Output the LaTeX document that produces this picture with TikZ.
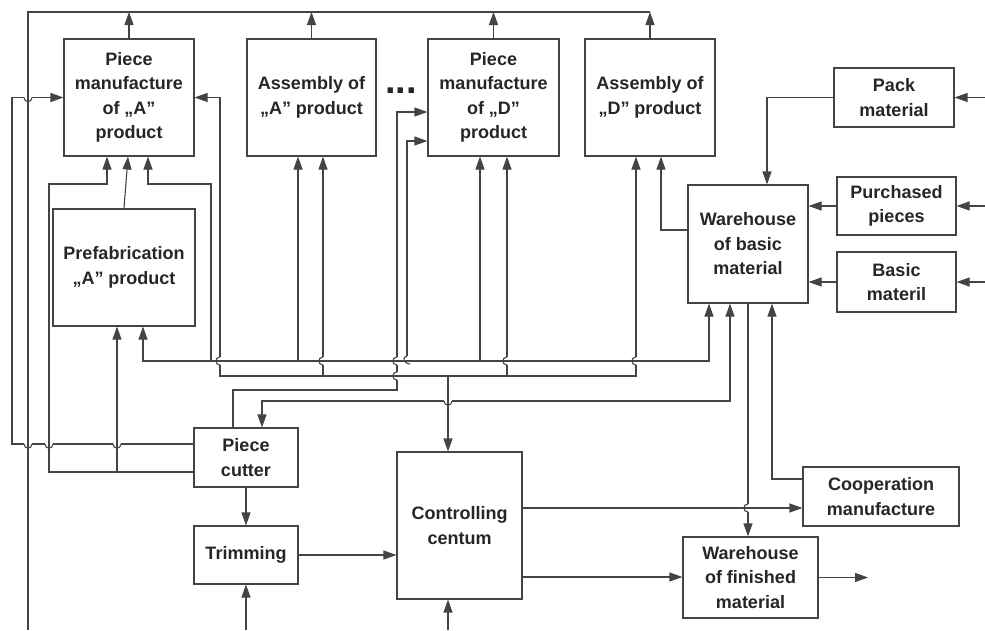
\documentclass[tikz,border=0pt]{standalone}
\usepackage{fontspec}
\setmainfont{Liberation Sans}
\usetikzlibrary{arrows.meta}
\definecolor{linec}{HTML}{444444}
\definecolor{txtc}{HTML}{262626}
\begin{document}
\begin{tikzpicture}[x=1pt,y=-1pt,
  box/.style={draw=linec, line width=1.1pt, fill=white, inner sep=0pt, align=center,
    text=txtc, font=\bfseries\fontsize{18}{24.5}\selectfont},
  ln/.style={draw=linec, line width=1.1pt},
  hop/.style={draw=linec, line width=1.1pt},
  arr/.style={ln, -{Triangle[length=13pt,width=9pt]}},
  arrs/.style={ln, {Triangle[length=13pt,width=9pt]}-{Triangle[length=13pt,width=9pt]}}]
\fill[white] (0,0) rectangle (985,630);
\useasboundingbox (0,0) rectangle (985,630);

% boxes
\node[box, minimum width=130pt, minimum height=117pt] (pa) at (129,97.5) {Piece\\manufacture\\of „A”\\product};
\node[box, minimum width=129pt, minimum height=117pt] (aa) at (311.5,97.5) {Assembly of\\„A” product};
\node[box, minimum width=131pt, minimum height=117pt] (pd) at (493.5,97.5) {Piece\\manufacture\\of „D”\\product};
\node[box, minimum width=130pt, minimum height=117pt] (ad) at (650,97.5) {Assembly of\\„D” product};
\node[box, minimum width=120pt, minimum height=59pt] (pack) at (894,97.5) {Pack\\material};
\node[box, minimum width=119pt, minimum height=58pt] (purch) at (896.5,206) {Purchased\\pieces};
\node[box, minimum width=119pt, minimum height=60pt] (basic) at (896.5,282) {Basic\\materil};
\node[box, minimum width=120pt, minimum height=118pt] (wb) at (748,244) {Warehouse\\of basic\\material};
\node[box, minimum width=142pt, minimum height=117pt] (pre) at (124,267.5) {Prefabrication\\„A” product};
\node[box, minimum width=104pt, minimum height=59pt] (pc) at (246,457.5) {Piece\\cutter};
\node[box, minimum width=104pt, minimum height=58pt] (trim) at (246,555) {Trimming};
\node[box, minimum width=125pt, minimum height=147pt] (cc) at (459.5,525.5) {Controlling\\centum};
\node[box, minimum width=156pt, minimum height=59pt] (coop) at (881,496.5) {Cooperation\\manufacture};
\node[box, minimum width=135pt, minimum height=81pt] (wf) at (750.5,577.5) {Warehouse\\of finished\\material};
\node[text=txtc, font=\bfseries\fontsize{38}{38}\selectfont, inner sep=0pt] (dots) at (401,91) {...};

% free ends
\coordinate (yTop) at (0,12);
\coordinate (bl) at (28,630);
\coordinate (tr) at (650,12);
\coordinate (inpack) at (985,97.5);
\coordinate (inpurch) at (985,206);
\coordinate (inbasic) at (985,282);
\coordinate (out) at (868,577.5);
\coordinate (trimin) at (246,630);
\coordinate (ccin) at (448,630);
\coordinate (j1) at (117,472);

% top collector line
\draw[ln] (bl) -- (28,12) -- (tr);
\draw[arr] (pa.north) -- (pa.north |- yTop);
\draw[arr] (aa.north) -- (aa.north |- yTop);
\draw[arr] (pd.north) -- (pd.north |- yTop);
\draw[arr] (ad.north) -- (ad.north |- yTop);

% right inputs
\draw[arr] (inpack) -- (pack.east);
\draw[arr] (inpurch) -- (purch.east);
\draw[arr] (inbasic) -- (basic.east);
\draw[arr] (pack.west) -| ([xshift=19pt]wb.north);
\draw[arr] (purch.west) -- (purch.west -| wb.east);
\draw[arr] (basic.west) -- (basic.west -| wb.east);
\draw[arr] ([yshift=14pt]wb.west) -| ([xshift=11pt]ad.south);

% piece cutter to piece manufacture A and prefabrication
\draw[arr] ([yshift=-14.5pt]pc.west) -| (49,184) -| ([xshift=-22pt]pa.south);
\draw[arr] (j1) -- ([xshift=-7pt]pre.south);
\draw[arr] (pre.north) -- ([xshift=-1pt]pa.south);
\draw[ln] ([yshift=13.5pt]pc.west) -- (121,444) (113,444) -- (53,444) (45,444) -- (32,444)
  (24,444) -- (12,444) -- (12,97.5) -- (24,97.5);
\draw[arr] (32,97.5) -- (pa.west);
\draw[hop] (121,444) .. controls +(0,5.5) and +(0,5.5) .. (113,444);
\draw[hop] (53,444) .. controls +(0,5.5) and +(0,5.5) .. (45,444);
\draw[hop] (32,444) .. controls +(0,5.5) and +(0,5.5) .. (24,444);
\draw[hop] (24,97.5) .. controls +(0,5.5) and +(0,5.5) .. (32,97.5);

% bus 376
\draw[arr] (220,357) -- (220,97.5) -- (pa.east);
\draw[ln] (220,365) -- (220,376) -- (636,376) -- (636,365);
\draw[arr] (636,357) -- ([xshift=-14pt]ad.south);
\draw[hop] (220,357) .. controls +(-5.5,0) and +(-5.5,0) .. (220,365);
\draw[hop] (636,357) .. controls +(-5.5,0) and +(-5.5,0) .. (636,365);
\draw[ln] (323,376) -- (323,365);
\draw[arr] (323,357) -- ([xshift=11.5pt]aa.south);
\draw[hop] (323,357) .. controls +(-5.5,0) and +(-5.5,0) .. (323,365);
\draw[ln] (507,376) -- (507,365);
\draw[arr] (507,357) -- ([xshift=13.5pt]pd.south);
\draw[hop] (507,357) .. controls +(-5.5,0) and +(-5.5,0) .. (507,365);
\draw[arr] (448,376) -- ([xshift=-11.5pt]cc.north);

% bus 361
\draw[arrs] ([xshift=19pt]pre.south) -- (143,361) -- (709,361) -- ([xshift=-39pt]wb.south);
\draw[arr] (211,361) -- (211,184) -| ([xshift=19pt]pa.south);
\draw[arr] (298,361) -- ([xshift=-13.5pt]aa.south);
\draw[arr] (480,361) -- ([xshift=-13.5pt]pd.south);
\draw[arr] (407,356) -- (407,141) -- ([yshift=-43.5pt]pd.west);
\draw[hop] (410,364) .. controls (403,363) and (402,357) .. (407,356);

% piece cutter to piece manufacture D
\draw[ln] ([xshift=-13pt]pc.north) -- (233,390) -- (397,390) -- (397,380) (397,372) -- (397,365);
\draw[arr] (397,357) -- (397,112) -- ([yshift=-14.5pt]pd.west);
\draw[hop] (397,372) .. controls +(-5.5,0) and +(-5.5,0) .. (397,380);
\draw[hop] (397,357) .. controls +(-5.5,0) and +(-5.5,0) .. (397,365);

% bus 401
\draw[arr] (444,401) -- (262,401) -- ([xshift=16pt]pc.north);
\draw[arr] (452,401) -- (730,401) -- ([xshift=-18pt]wb.south);
\draw[hop] (444,401) .. controls +(0,5.5) and +(0,5.5) .. (452,401);

% lower right
\draw[arr] ([yshift=17.5pt]coop.west) -| ([xshift=24pt]wb.south);
\draw[ln] (wb.south) -- (748,504);
\draw[arr] (748,512) -- (wb.south |- wf.north);
\draw[hop] (748,504) .. controls +(-5.5,0) and +(-5.5,0) .. (748,512);
\draw[arr] ([yshift=17.5pt]cc.east) -- ([yshift=17.5pt]cc.east -| coop.west);
\draw[arr] ([yshift=-51.5pt]cc.east) -- ([yshift=-51.5pt]cc.east -| wf.west);
\draw[arr] (wf.east) -- (out);
\draw[arr] (trim.east) -- (trim.east -| cc.west);
\draw[arr] (pc.south) -- (trim.north);
\draw[arr] (trimin) -- (trim.south);
\draw[arr] (ccin) -- (ccin |- cc.south);
\end{tikzpicture}
\end{document}
